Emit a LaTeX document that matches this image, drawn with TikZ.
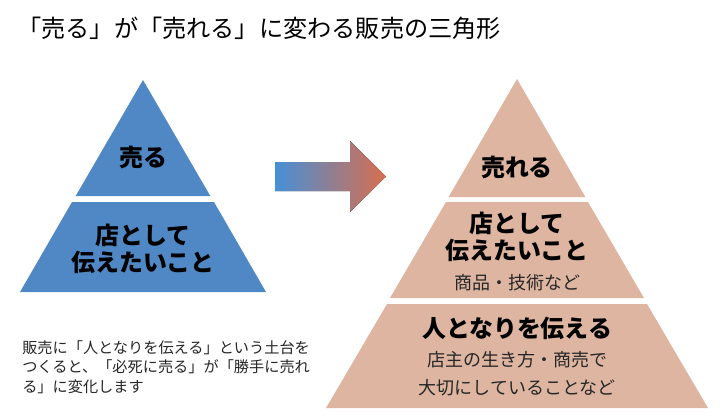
\documentclass[tikz,border=0pt]{standalone}
\usepackage{fontspec}
\setmainfont{Noto Sans CJK JP}
\usetikzlibrary{positioning}
\definecolor{pyrblue}{RGB}{79,136,196}
\definecolor{pyrtan}{RGB}{221,181,161}
\definecolor{arrowblue}{RGB}{70,144,214}
\definecolor{arroworange}{RGB}{216,110,78}

\begin{document}
\begin{tikzpicture}[
      x=0.025cm, y=-0.025cm,
      layerL/.style={fill=pyrblue},
      layerR/.style={fill=pyrtan},
      head/.style={font=\bfseries\fontsize{17}{19.3}\selectfont, align=center, inner sep=0},
      sub/.style={font=\fontsize{12.8}{19.8}\selectfont, align=center, text=black!85, inner sep=0},
      title/.style={font=\fontsize{17.2}{20}\selectfont, anchor=west, inner sep=0},
      caption/.style={font=\fontsize{10.8}{13.8}\selectfont, align=left, anchor=west, inner sep=0, text=black!85}
    ]
    \useasboundingbox (0,0) rectangle (720,415);

    % Title
    \node[title] (title) at (17,28) {「売る」が「売れる」に変わる販売の三角形};

    % Left pyramid
    \fill[layerL] (143,80) -- (210.3,196) -- (75.7,196) -- cycle;
    \fill[layerL] (72,202) -- (214,202) -- (266,292) -- (20,292) -- cycle;
    \node[head] (sell)   at (143,157) {売る};
    \node[head] (shopL)  at (143,249) {店として\\伝えたいこと};

    % Arrow
    \fill[left color=arrowblue, right color=arroworange]
      (275,162) -- (350,162) -- (350,141) -- (386,176.5) -- (350,212) -- (350,191) -- (275,191) -- cycle;

    % Right pyramid
    \fill[layerR] (517,79) -- (585.4,197) -- (448.6,197) -- cycle;
    \fill[layerR] (446,202) -- (588,202) -- (644,298) -- (390,298) -- cycle;
    \fill[layerR] (387,304) -- (647,304) -- (708,408) -- (326,408) -- cycle;
    \node[head] (sold)   at (517,167) {売れる};
    \node[head] (shopR)  at (517,237) {店として\\伝えたいこと};
    \node[sub]  (goods)  at (517,283) {商品・技術など};
    \node[head] (person) at (517,328) {人となりを伝える};
    \node[sub]  (owner)  at (517,374) {店主の生き方・商売で\\大切にしていることなど};

    % Caption
    \node[caption] (note) at (22,367)
      {販売に「人となりを伝える」という土台を\\つくると、「必死に売る」が「勝手に売れ\\る」に変化します};
  \end{tikzpicture}
\end{document}
